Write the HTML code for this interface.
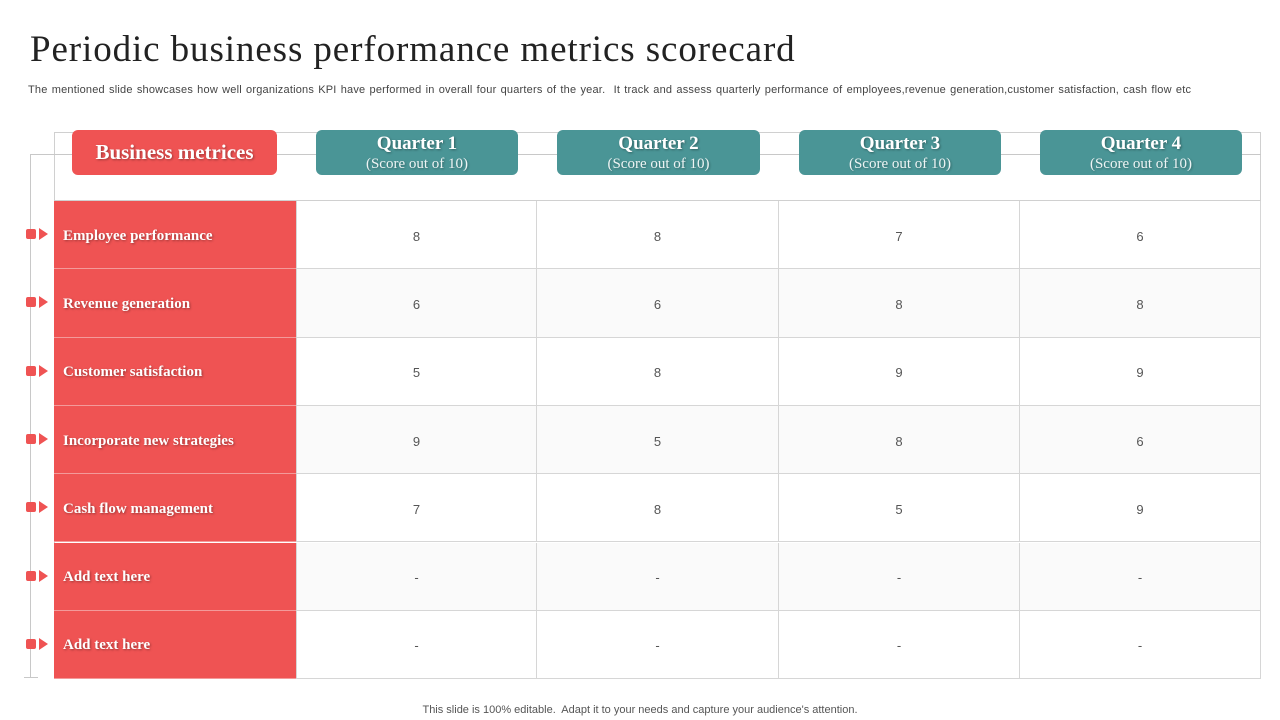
<!DOCTYPE html>
<html><head><meta charset="utf-8"><style>
body{margin:0;width:1280px;height:720px;background:#fff;position:relative;overflow:hidden;font-family:"Liberation Sans",sans-serif}
.abs{position:absolute}
h1{position:absolute;left:30px;top:28px;margin:0;font:400 37px "Liberation Serif",serif;color:#222;letter-spacing:0.9px;white-space:nowrap}
.sub{left:28px;top:84px;font-size:11px;color:#444;letter-spacing:0.2px;word-spacing:0.9px;white-space:nowrap}
.hbox{position:absolute;top:130px;height:45px;border-radius:6px;color:#fff;text-align:center;font-family:"Liberation Serif",serif;text-shadow:1px 1px 2px rgba(0,0,0,.35)}
.red{background:#EF5353}
.teal{background:#4A9596}
.cell{position:absolute;box-sizing:border-box;border-right:1px solid #d6d6d6;border-bottom:1px solid #d6d6d6;display:flex;align-items:center;justify-content:center;font-size:13px;color:#555;padding-top:3px}
.lab{background:#EF5353;color:#fff;justify-content:flex-start;padding-left:9px;font:700 15px "Liberation Serif",serif;text-shadow:1px 1px 2px rgba(0,0,0,.35);border-bottom:1px solid #f39a9a;border-right:none}
.foot{left:0;width:1280px;top:704px;text-align:center;font-size:11px;color:#555}
</style></head><body>
<h1>Periodic business performance metrics scorecard</h1>
<div class="abs sub">The mentioned slide showcases how well organizations KPI have performed in overall four quarters of the year.&nbsp; It track and assess quarterly performance of employees,revenue generation,customer satisfaction, cash flow etc</div>
<div class="abs" style="left:54px;top:132px;width:1207px;height:547px;border:1px solid #d0d0d0;box-sizing:border-box"></div>
<div class="abs" style="left:30px;top:154px;width:1231px;height:1px;background:#c8c8c8"></div>
<div class="abs" style="left:30px;top:154px;width:1px;height:523px;background:#c8c8c8"></div>
<div class="abs" style="left:24px;top:677px;width:14px;height:1px;background:#c8c8c8"></div>
<div class="abs" style="left:54px;top:200px;width:1207px;height:1px;background:#d0d0d0"></div>
<div class="hbox red" style="left:72px;width:205px;line-height:45px;font-size:21px;font-weight:700">Business metrices</div>
<div id="tbl"></div>
<div class="abs foot">This slide is 100% editable.&nbsp; Adapt it to your needs and capture your audience's attention.</div>
<script>
const quarters=["Quarter 1","Quarter 2","Quarter 3","Quarter 4"];
const metrics=["Employee performance","Revenue generation","Customer satisfaction","Incorporate new strategies","Cash flow management","Add text here","Add text here"];
const q1=["8","6","5","9","7","-","-"];
const q2=["8","6","8","5","8","-","-"];
const q3=["7","8","9","8","5","-","-"];
const q4=["6","8","9","6","9","-","-"];
const series=[q1,q2,q3,q4];
const root=document.body;
const colX=[54,296,537,779,1020,1261];
const top0=201,rowH=68.3;
quarters.forEach((q,i)=>{
  const d=document.createElement('div');d.className='hbox teal';
  
  
  const l=colX[i+1]+20;d.style.left=l+'px';d.style.width=(colX[i+2]-colX[i+1]-39)+'px';
  d.innerHTML='<div style="font-size:19px;font-weight:700;margin-top:2px;line-height:24px">'+q+'</div><div style="font-size:15px;line-height:17px;opacity:.9">(Score out of 10)</div>';
  root.appendChild(d);
});
metrics.forEach((m,r)=>{
  const y=top0+r*rowH;
  const mk=document.createElement('div');mk.className='abs';
  
  
  mk.style.cssText=`left:26px;top:${y+rowH/2-7}px;width:24px;height:12px`;
  mk.innerHTML='<div style="position:absolute;left:0;top:1px;width:10px;height:10px;border-radius:2px;background:#EF5353"></div><div style="position:absolute;left:13px;top:0;width:0;height:0;border-top:6px solid transparent;border-bottom:6px solid transparent;border-left:9px solid #EF5353"></div>';
  root.appendChild(mk);
  const lb=document.createElement('div');lb.className='cell lab';
  
  
  lb.style.cssText+=`left:54px;top:${y}px;width:242px;height:${rowH}px`;
  lb.textContent=m;root.appendChild(lb);
  series.forEach((s,c)=>{
    const d=document.createElement('div');d.className='cell';
    
    
    d.style.cssText+=`left:${colX[c+1]}px;top:${y}px;width:${colX[c+2]-colX[c+1]}px;height:${rowH}px;background:${r%2?'#fafafa':'#fff'}`;
    if(c==0)d.style.borderLeft='1px solid #d6d6d6';
    d.textContent=s[r];root.appendChild(d);
  });
});
</script>
</body></html>
